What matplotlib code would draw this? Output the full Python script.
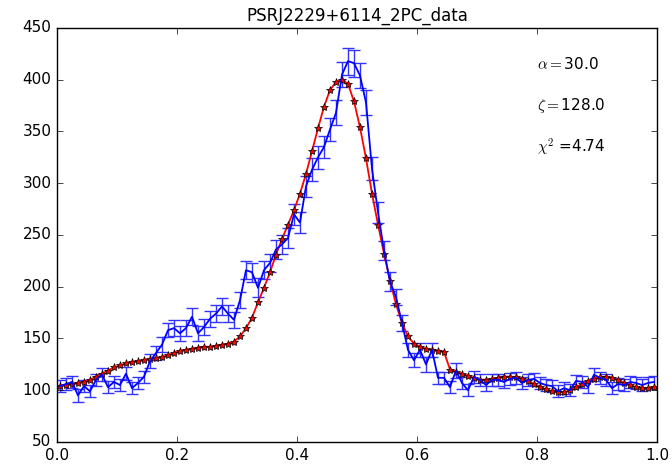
#!/usr/bin/env python3

import numpy as np
import matplotlib
matplotlib.use("Agg")
import matplotlib.pyplot as plt

# phase bins (centres of 100 bins)
phase = (np.arange(100) + 0.5) / 100.0

# observed light curve (blue, with errors)
counts = [104, 106, 108, 95, 104, 99, 110, 115, 103, 108,
          105, 116, 102, 107, 113, 128, 136, 144, 158, 160,
          155, 160, 171, 155, 161, 169, 174, 181, 174, 168,
          187, 216, 214, 199, 216, 223, 236, 241, 247, 270,
          262, 297, 313, 325, 335, 352, 368, 405, 418, 416,
          404, 378, 314, 272, 235, 205, 190, 165, 139, 129,
          139, 125, 139, 112, 112, 103, 119, 107, 100, 113,
          110, 105, 110, 110, 108, 111, 112, 107, 110, 111,
          107, 105, 104, 99, 102, 100, 109, 108, 103, 115,
          112, 110, 102, 106, 105, 108, 107, 105, 107, 108]

errors = [6, 6, 6, 6, 6, 6, 6, 6, 6, 6,
          6, 6, 6, 6, 6, 7, 7, 7, 7, 8,
          7, 8, 8, 7, 8, 8, 8, 8, 8, 8,
          8, 9, 9, 9, 9, 9, 9, 9, 10, 10,
          10, 10, 11, 11, 11, 11, 12, 12, 13, 13,
          12, 12, 11, 10, 9, 9, 8, 8, 7, 7,
          7, 7, 7, 6, 6, 6, 7, 6, 6, 6,
          6, 6, 6, 6, 6, 6, 6, 6, 6, 6,
          6, 6, 6, 6, 6, 6, 6, 6, 6, 6,
          6, 6, 6, 6, 6, 6, 6, 6, 6, 6]

# model light curve (red, stars)
model = [104, 105, 106, 107, 108, 110, 113, 116, 119, 122,
         124, 126, 127, 128, 129, 130, 131, 132, 134, 136,
         138, 139, 140, 141, 142, 142, 143, 144, 145, 147,
         152, 160, 170, 185, 199, 214, 231, 246, 260, 274,
         290, 309, 331, 353, 374, 390, 398, 400, 396, 379,
         354, 324, 290, 260, 232, 206, 183, 165, 152, 145,
         142, 140, 139, 138, 137, 120, 118, 116, 114, 112,
         110, 110, 111, 112, 113, 113, 113, 111, 109, 106,
         103, 101, 99, 98, 98, 100, 103, 106, 109, 111,
         113, 113, 112, 110, 107, 105, 103, 102, 102, 103]

labels = [r"$\alpha=$30.0", r"$\zeta=$128.0", r"$\chi^2$ =4.74"]
label_y = [415, 375, 335]

plt.style.use("classic")
fig = plt.figure(figsize=(6.72, 4.65), dpi=100)
ax = fig.add_axes([0.0848, 0.0495, 0.8929, 0.8903])

ax.errorbar(phase, counts, yerr=errors, fmt="b-", lw=1.3, ecolor="#3333ff",
            elinewidth=1.0, capsize=4, capthick=1.0)
ax.plot(phase, model, "r-", lw=1.3)
ax.plot(phase, model, "r*", ms=6, mec="k", mew=0.5)

for txt, yy in zip(labels, label_y):
    ax.text(0.8, yy, txt, fontsize=11, va="center", ha="left")

ax.set_xlim(0, 1)
ax.set_ylim(50, 450)
ax.tick_params(labelsize=11)
ax.set_title("PSRJ2229+6114_2PC_data", fontsize=12)

fig.savefig("out.png", dpi=100)
